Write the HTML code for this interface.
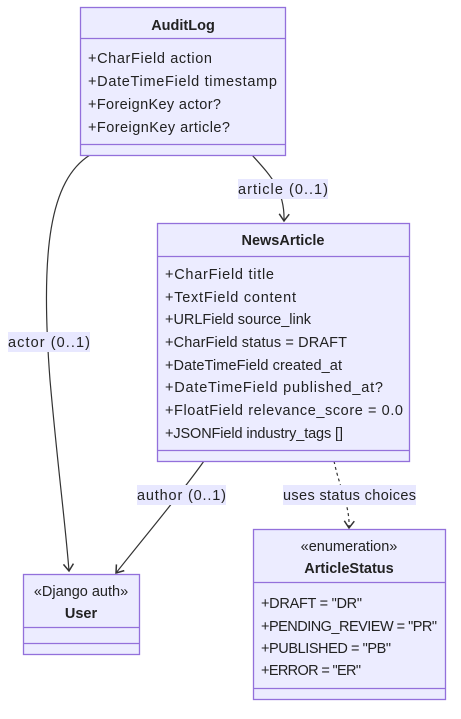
<!DOCTYPE html>
<html><head><style>html,body{margin:0;padding:0;background:#fff}svg{display:block}text{font-family:"Liberation Sans","DejaVu Sans",sans-serif;font-size:14.5px;fill:#222}.b{font-weight:bold}</style></head><body>
<svg width="461" height="719" viewBox="0 0 461 719" xmlns="http://www.w3.org/2000/svg">
<defs><marker id="a" markerWidth="12" markerHeight="12" refX="10" refY="6" orient="auto" markerUnits="userSpaceOnUse"><path d="M3,1 L10,6 L3,11" fill="none" stroke="#333" stroke-width="1.5"/></marker></defs>
<g fill="none" stroke="#333" stroke-width="1.2">
<path d="M90,155 C50,180 40,250 50,380 C58,470 65,520 69,571" marker-end="url(#a)"/>
<path d="M252,155 C270,175 285,190 284,221" marker-end="url(#a)"/>
<path d="M204,461 C180,495 150,530 116,573" marker-end="url(#a)"/>
<path d="M334,461 C340,490 350,505 349,528" stroke-dasharray="3,3" marker-end="url(#a)"/>
</g>
<g fill="#ececff" stroke="#9370db" stroke-width="1.3">
<rect x="80.5" y="7.5" width="205" height="148"/><path d="M80.5,38.5H285.5M80.5,144.5H285.5"/>
<rect x="157.5" y="223.5" width="252" height="238"/><path d="M157.5,256.5H409.5M157.5,450.5H409.5"/>
<rect x="23.5" y="574.5" width="116" height="80"/><path d="M23.5,627.5H139.5M23.5,643.5H139.5"/>
<rect x="253.5" y="529.5" width="192" height="170"/><path d="M253.5,582.5H445.5M253.5,688.5H445.5"/>
</g>
<g fill="#e8e8ff"><rect x="8" y="332" width="82" height="20"/><rect x="238" y="179" width="90" height="20"/><rect x="137" y="485" width="89" height="20"/><rect x="283" y="485" width="133" height="20"/></g>
<text x="8" y="347" textLength="82">actor (0..1)</text>
<text x="238" y="194" textLength="90">article (0..1)</text>
<text x="137" y="500" textLength="89">author (0..1)</text>
<text x="283" y="500" textLength="133">uses status choices</text>
<text class="b" x="183" y="30" text-anchor="middle">AuditLog</text>
<text x="88" y="63" textLength="124">+CharField action</text>
<text x="88" y="86" textLength="189">+DateTimeField timestamp</text>
<text x="88" y="109" textLength="133">+ForeignKey actor?</text>
<text x="88" y="132" textLength="142">+ForeignKey article?</text>
<text class="b" x="283" y="245" text-anchor="middle">NewsArticle</text>
<text x="165" y="279" textLength="109">+CharField title</text>
<text x="165" y="302" textLength="131">+TextField content</text>
<text x="165" y="324" textLength="146">+URLField source_link</text>
<text x="165" y="347" textLength="182">+CharField status = DRAFT</text>
<text x="165" y="370" textLength="177">+DateTimeField created_at</text>
<text x="165" y="392" textLength="218">+DateTimeField published_at?</text>
<text x="165" y="415" textLength="238">+FloatField relevance_score = 0.0</text>
<text x="165" y="438" textLength="178">+JSONField industry_tags []</text>
<text x="81" y="596" text-anchor="middle">«Django auth»</text>
<text class="b" x="81" y="618" text-anchor="middle">User</text>
<text x="349" y="551" text-anchor="middle">«enumeration»</text>
<text class="b" x="349" y="573" text-anchor="middle">ArticleStatus</text>
<text x="261" y="608" textLength="101">+DRAFT = "DR"</text>
<text x="261" y="631" textLength="176">+PENDING_REVIEW = "PR"</text>
<text x="261" y="653" textLength="130">+PUBLISHED = "PB"</text>
<text x="261" y="675" textLength="100">+ERROR = "ER"</text>
</svg>
</body></html>
